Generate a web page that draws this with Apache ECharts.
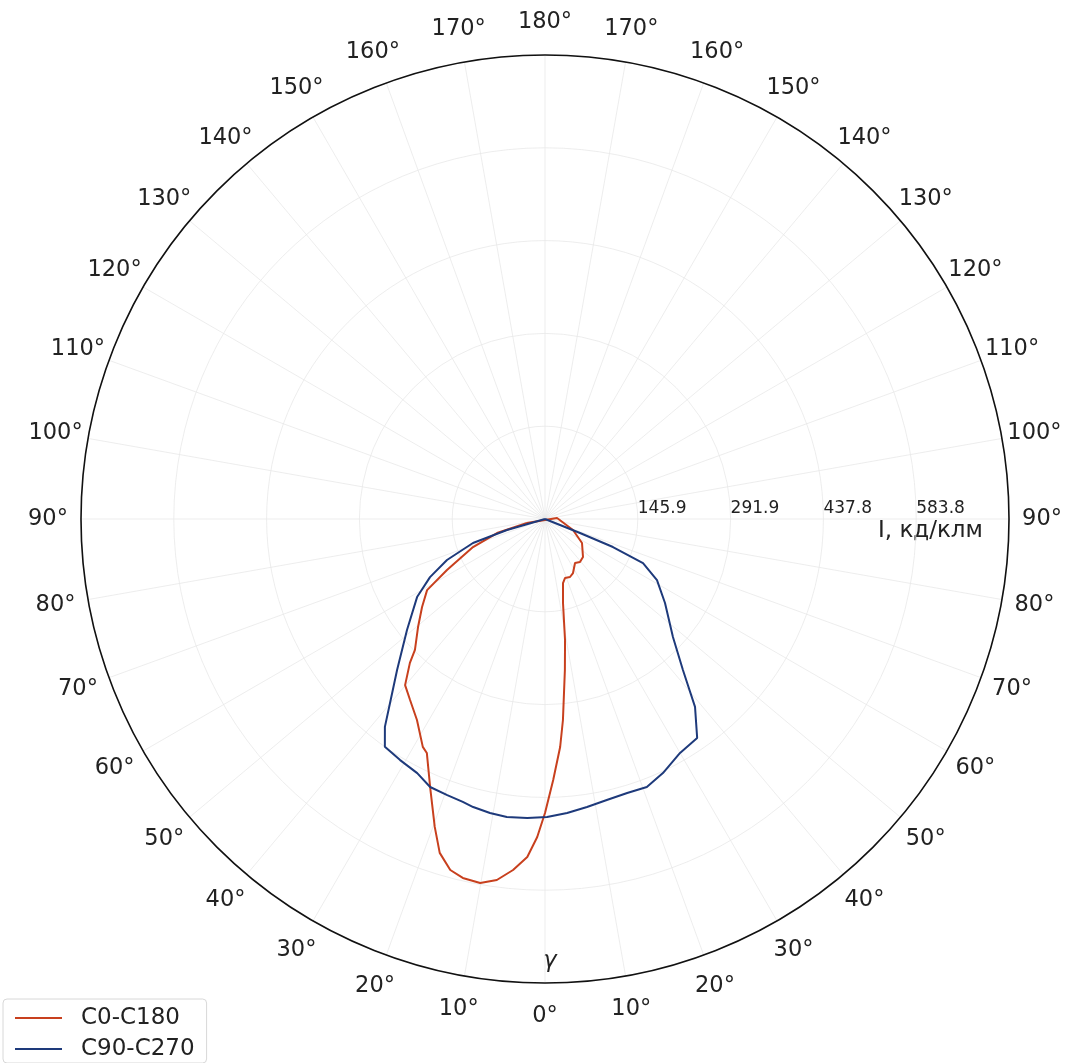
<!DOCTYPE html>
<html>
<head>
<meta charset="utf-8">
<script src="https://cdn.jsdelivr.net/npm/echarts@6/dist/echarts.min.js"></script>
<style>
  html, body { margin: 0; padding: 0; background: #fff; }
  #chart { width: 1065px; height: 1063px; }
</style>
</head>
<body>
<div id="chart"></div>
<script>
// gamma (deg) / intensity (cd/klm) pairs
var c0Gamma = [0, 1.8, 3.8, 5.1, 7.5, 9.4, 12.1, 15.7, 18.7, 23.3, 27.4, 34.3, 39.1, 45, 57, 68.6, 94.8];
var c0Value = [462.4, 410.7, 359.4, 317.4, 239.6, 192.9, 135.1, 104.6, 98, 99.3, 95.7, 83.8, 87.2, 84.5, 69.4, 47.3, 19];
var c180Gamma = [1.4, 3.0, 5.2, 7.6, 10.1, 12.9, 15.1, 17.5, 19.7, 23.2, 26.8, 28.2, 32.5, 36.7, 40.1, 43.2, 44.8, 49.6, 54.4, 58.9, 62.5, 68.7, 73.7, 77.5];
var c180Value = [500.3, 532.3, 554.3, 572.8, 581.5, 579.1, 571.8, 550.6, 514.4, 458.6, 412.2, 406.7, 374.8, 355.1, 341.6, 310.4, 290.3, 262.2, 237.8, 216.6, 173.8, 121.5, 78.6, 29];
var c90Gamma = [0.4, 4.3, 8.3, 12.4, 16.7, 20.8, 24.9, 30.0, 34.8, 38.6, 42.4, 47.3, 55.0, 61.4, 65.8, 67.6, 68.2, 90];
var c90Value = [468.7, 463.6, 457.7, 452.6, 449.8, 451, 440.5, 424.8, 419.3, 378.2, 321.7, 273.8, 230.4, 200.6, 169, 115.6, 59.3, 0];
var c270Gamma = [3.4, 7.3, 10.6, 14.0, 16.2, 19.5, 23.2, 26.7, 31.0, 35.1, 37.6, 40.1, 44.4, 51.2, 58.6, 63.2, 67.3, 71.6, 73.9, 90];
var c270Value = [471, 472.5, 470.4, 466.9, 463.3, 460.6, 458.6, 447.3, 442.4, 438, 412.7, 378.4, 332.5, 278.5, 235.7, 202.6, 167.1, 119.4, 62.2, 0];

var radiusStep = 145.95;
var radiusMax = 729.75;
var radiusTickLabels = ['', '145.9', '291.9', '437.8', '583.8', ''];
var seriesNames = ['C0-C180', 'C90-C270'];

// left half drawn at 360 - gamma, right half at gamma; closed loop
function buildLoop(rightG, rightV, leftG, leftV) {
  var pts = [];
  for (var i = leftG.length - 1; i >= 0; i--) pts.push([leftV[i], 360 - leftG[i]]);
  for (var j = 0; j < rightG.length; j++) pts.push([rightV[j], rightG[j]]);
  pts.push(pts[0]);
  return pts;
}

var font = 'DejaVu Sans';
var fs = 22.5;
var plotR = 464;      // px
var labelR = 497;     // px, circle the label centres should sit on
var labelMargin = -40;

function gammaText(v) { return (v <= 180 ? v : 360 - v) + '°'; }
function textW(s) {
  var w = 0;
  for (var i = 0; i < s.length; i++) w += s[i] === '°' ? 0.5 : 0.636;
  return w * fs;
}

// echarts aligns angle labels away from the centre; pad each one so it ends up centred like matplotlib
var labelRich = {};
for (var v = 0; v < 360; v += 10) {
  var phi = (270 + v) * Math.PI / 180;
  var ux = Math.cos(phi), uy = -Math.sin(phi);
  var ax = (plotR + labelMargin) * ux, ay = (plotR + labelMargin) * uy;
  var cx = labelR * ux, cy = labelR * uy;
  var w = textW(gammaText(v)), h = fs;
  var p = [0, 0, 0, 0];
  if (Math.abs(ax) / plotR < 0.3) {
    var dx = cx - ax;
    if (dx > 0) p[3] = 2 * dx; else p[1] = -2 * dx;
  } else if (ax > 0) {
    p[3] = Math.max(0, cx - ax - w / 2);
  } else {
    p[1] = Math.max(0, ax - w / 2 - cx);
  }
  if (Math.abs(ay) / plotR < 0.3) {
    var dy = cy - ay;
    if (dy > 0) p[0] = 2 * dy; else p[2] = -2 * dy;
  } else if (ay > 0) {
    p[0] = Math.max(0, cy - ay - h / 2);
  } else {
    p[2] = Math.max(0, ay - h / 2 - cy);
  }
  labelRich['a' + v] = { fontSize: fs, fontFamily: font, color: '#222', padding: p };
}

var chart = echarts.init(document.getElementById('chart'));

var option = {
  animation: false,
  backgroundColor: '#fff',
  polar: [
    { center: [545, 519], radius: plotR },
    { center: [545, 519], radius: plotR }
  ],
  angleAxis: [
    {
      polarIndex: 0,
      type: 'value',
      min: 0,
      max: 360,
      interval: 10,
      startAngle: 270,
      clockwise: false,
      axisLine: { lineStyle: { color: '#111', width: 1.6 } },
      axisTick: { show: false },
      axisLabel: {
        margin: labelMargin,
        fontSize: fs,
        fontFamily: font,
        color: '#222',
        rich: labelRich,
        formatter: function (v) {
          if (v >= 360) return '';
          return '{a' + v + '|' + gammaText(v) + '}';
        }
      },
      splitLine: { show: true, lineStyle: { color: '#e8e8e8', width: 0.8 } }
    },
    {
      polarIndex: 1,
      type: 'value',
      min: 0,
      max: 360,
      startAngle: 0,
      axisLine: { show: false },
      axisTick: { show: false },
      axisLabel: { show: false },
      splitLine: { show: false }
    }
  ],
  radiusAxis: [
    {
      polarIndex: 0,
      min: 0,
      max: radiusMax,
      interval: radiusStep,
      axisLine: { show: false },
      axisTick: { show: false },
      axisLabel: { show: false },
      splitLine: { show: true, lineStyle: { color: '#e8e8e8', width: 0.8 } }
    },
    {
      polarIndex: 1,
      min: 0,
      max: radiusMax,
      interval: radiusStep,
      axisLine: { show: false },
      axisTick: { show: false },
      splitLine: { show: false },
      axisLabel: {
        margin: 2,
        align: 'left',
        fontSize: 17,
        fontFamily: font,
        color: '#222',
        formatter: function (v) {
          return radiusTickLabels[Math.round(v / radiusStep)] || '';
        }
      }
    }
  ],
  legend: {
    orient: 'vertical',
    left: 3,
    top: 999,
    padding: [7, 12, 2, 12],
    itemGap: 7,
    itemWidth: 47,
    itemHeight: 2,
    icon: 'rect',
    borderColor: '#d8d8d8',
    borderWidth: 1,
    borderRadius: 4,
    backgroundColor: '#fff',
    textStyle: { fontSize: 23, lineHeight: 24, fontFamily: font, color: '#222', padding: [0, 0, 0, 14] },
    data: seriesNames
  },
  graphic: [
    { type: 'text', left: 878, top: 520, style: { text: 'I, кд/клм', fontSize: 23, fontFamily: font, fill: '#222' } },
    { type: 'text', left: 543, top: 950, style: { text: 'γ', fontSize: 23, fontStyle: 'italic', fontFamily: font, fill: '#222' } }
  ],
  series: [
    {
      name: seriesNames[0],
      type: 'line',
      coordinateSystem: 'polar',
      polarIndex: 0,
      symbol: 'none',
      lineStyle: { color: '#c8401e', width: 2 },
      itemStyle: { color: '#c8401e' },
      data: buildLoop(c0Gamma, c0Value, c180Gamma, c180Value)
    },
    {
      name: seriesNames[1],
      type: 'line',
      coordinateSystem: 'polar',
      polarIndex: 0,
      symbol: 'none',
      lineStyle: { color: '#1e3a7b', width: 2 },
      itemStyle: { color: '#1e3a7b' },
      data: buildLoop(c90Gamma, c90Value, c270Gamma, c270Value)
    }
  ]
};

chart.setOption(option);
</script>
</body>
</html>
